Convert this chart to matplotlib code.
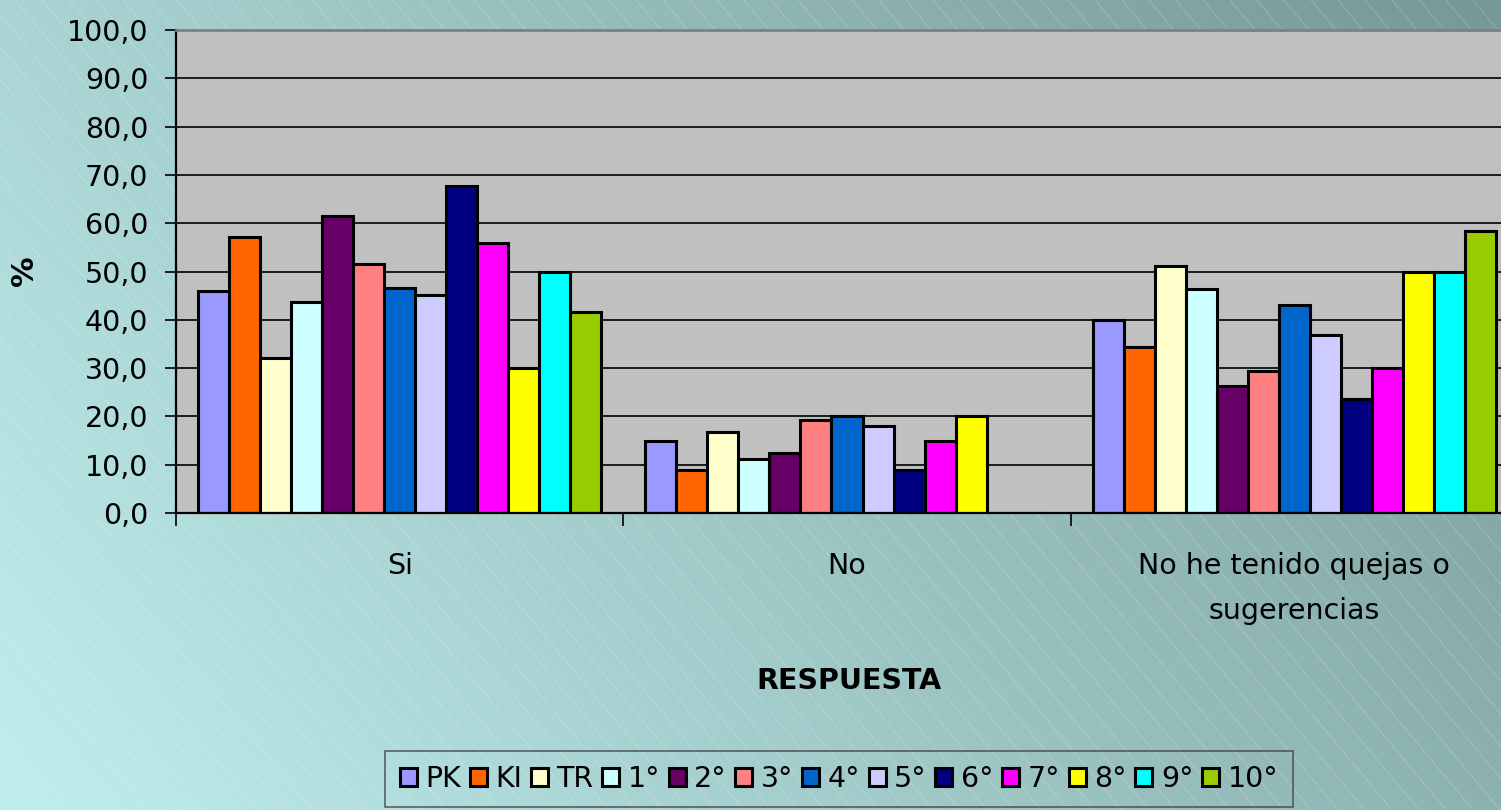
import numpy as np
import matplotlib
matplotlib.use("Agg")
import matplotlib.pyplot as plt
from matplotlib.collections import LineCollection
from matplotlib.ticker import FuncFormatter

# data
categories = ["Si", "No", "No he tenido quejas o\nsugerencias"]
series = ["PK", "KI", "TR", "1°", "2°", "3°", "4°", "5°", "6°", "7°", "8°", "9°", "10°"]
si = [46.0, 57.1, 32.1, 43.6, 61.5, 51.6, 46.6, 45.2, 67.7, 55.9, 30.0, 50.0, 41.7]
no = [15.0, 8.8, 16.8, 11.1, 12.4, 19.2, 20.0, 18.0, 8.8, 14.9, 20.0, 0.0, 0.0]
sin_quejas = [39.9, 34.4, 51.2, 46.3, 26.2, 29.3, 43.0, 36.8, 23.6, 30.0, 50.0, 50.0, 58.3]
colors = ["#9999FF", "#FF6600", "#FFFFCC", "#CCFFFF", "#660066", "#FF8080", "#0066CC",
          "#CCCCFF", "#000080", "#FF00FF", "#FFFF00", "#00FFFF", "#99CC00"]

plt.rcParams['font.family'] = ['DejaVu Sans']
FS = 20.5

W, H = 1501, 810
fig = plt.figure(figsize=(W / 100, H / 100), dpi=100)

# background: diagonal gradient + thin white hatch
bg = fig.add_axes([0, 0, 1, 1], zorder=-10)
xx, yy = np.meshgrid(np.linspace(0, 1, 300), np.linspace(0, 1, 160))
t = 0.7 * xx + 0.3 * yy
c0 = np.array([192, 238, 238]) / 255
c1 = np.array([118, 152, 150]) / 255
img = c0[None, None, :] * (1 - t[..., None]) + c1[None, None, :] * t[..., None]
bg.imshow(img, origin="lower", extent=[0, W, 0, H], aspect="auto")
segs = []
for x0 in np.arange(-1200, W + 50, 27):
    segs.append([(x0, H), (x0 + H / 1.2, 0)])
bg.add_collection(LineCollection(segs, colors="white", linewidths=0.6, alpha=0.22))
bg.set_xlim(0, W)
bg.set_ylim(0, H)
bg.axis("off")

# main plot
ax = fig.add_axes([176 / W, 1 - 513 / H, 1342 / W, 483 / H])
ax.set_facecolor("#C0C0C0")
ax.set_axisbelow(True)

n = len(series)
bw = 1 / (n + 1.43)
x = np.arange(len(categories))
data = np.array([si, no, sin_quejas])
for k in range(n):
    pos = x - 0.5 + 0.715 * bw + k * bw + bw / 2
    ax.bar(pos, data[:, k], width=bw, color=colors[k], edgecolor="black",
           linewidth=2.2, label=series[k])

ax.set_xlim(-0.5, 2.5)
ax.set_ylim(0, 100)
ax.set_yticks(np.arange(0, 101, 10))
ax.yaxis.set_major_formatter(FuncFormatter(lambda v, p: f"{v:.1f}".replace(".", ",")))
ax.grid(axis="y", color="black", linewidth=1.2)
ax.tick_params(axis="y", labelsize=FS, length=8, width=1.2, pad=12, direction="out")

ax.set_xticks([-0.5, 0.5, 1.5, 2.5])
ax.set_xticklabels([])
ax.set_xticks(x, minor=True)
ax.set_xticklabels(categories, minor=True, fontsize=FS, linespacing=1.8)
ax.tick_params(axis="x", which="major", length=9, width=1.2, direction="out")
ax.tick_params(axis="x", which="minor", length=0, pad=28)

for s in ["left", "bottom"]:
    ax.spines[s].set_color("black")
    ax.spines[s].set_linewidth(1.6)
ax.spines["top"].set_color("#808080")
ax.spines["top"].set_linewidth(2)
ax.spines["right"].set_color("#808080")

fig.text(25 / W, 1 - 271 / H, "%", rotation=90, fontsize=22, fontweight="bold",
         ha="center", va="center")
fig.text(849 / W, 1 - 681 / H, "RESPUESTA", fontsize=FS, fontweight="bold",
         ha="center", va="center")

leg = fig.legend(loc="center", bbox_to_anchor=(839 / W, 1 - 779 / H), ncol=n,
                 fontsize=FS, frameon=True, fancybox=False, handlelength=0.6,
                 handleheight=0.6, handletextpad=0.3, columnspacing=0.3,
                 borderpad=0.5, borderaxespad=0)
leg.get_frame().set_facecolor("none")
leg.get_frame().set_edgecolor("#404040")
leg.get_frame().set_linewidth(1.2)

fig.savefig("out.png", dpi=100)
